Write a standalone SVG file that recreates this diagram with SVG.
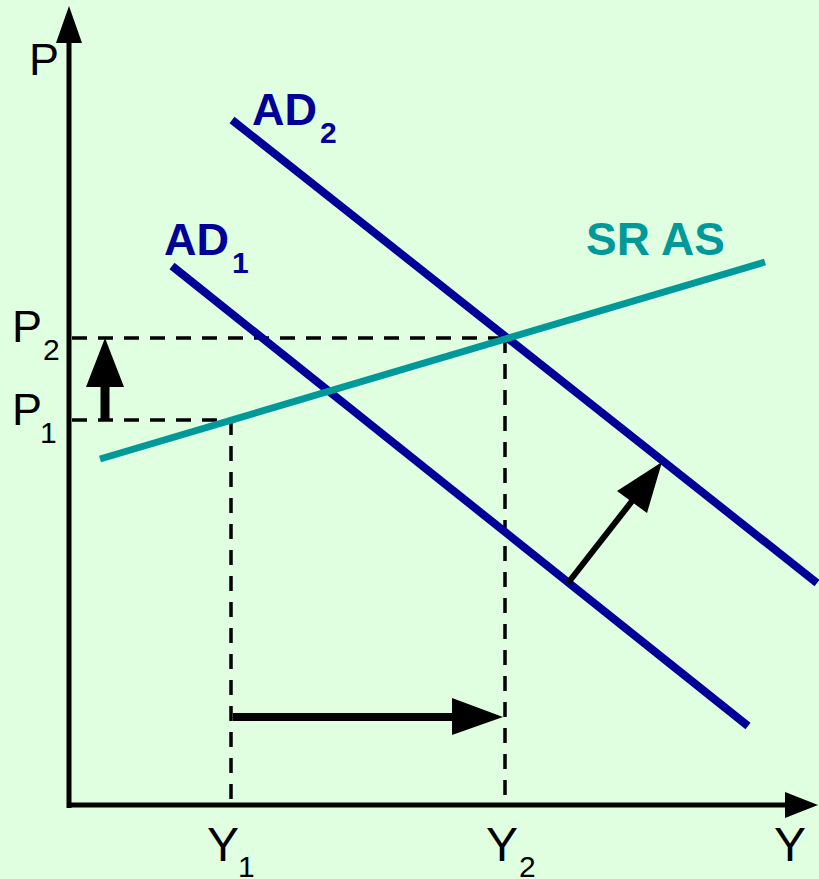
<svg xmlns="http://www.w3.org/2000/svg" width="819" height="879" viewBox="0 0 819 879">
<style>
.ax{stroke:#000;stroke-width:5;fill:none}
.dash{stroke:#000;stroke-width:3.5;stroke-dasharray:15,11;fill:none}
.ad{stroke:#000099;stroke-width:8;fill:none}
.as{stroke:#009999;stroke-width:7;fill:none}
.arr{stroke:#000;stroke-width:7;fill:none}
.head{fill:#000}
.lbl{font-family:"Liberation Sans",Arial,sans-serif;fill:#000}
.big{font-size:45px}
.ybig{font-size:48px}
.sub{font-size:30px}
.adl{font-family:"Liberation Sans",Arial,sans-serif;font-weight:bold;fill:#000099}
.asl{font-family:"Liberation Sans",Arial,sans-serif;font-weight:bold;fill:#009999;font-size:46px}
</style>
<rect width="819" height="879" fill="#E0FFE0"/>
<g id="axes">
<line class="ax" x1="69" y1="808" x2="69" y2="40"/>
<polygon class="head" points="69,6 56,43 82,43"/>
<line class="ax" x1="67" y1="805" x2="790" y2="805"/>
<polygon class="head" points="818,805 785,792 785,818"/>
</g>
<g id="connectors">
<line class="dash" x1="72" y1="338" x2="505" y2="338"/>
<line class="dash" x1="72" y1="420" x2="231" y2="420"/>
<line class="dash" x1="231" y1="420" x2="231" y2="805"/>
<line class="dash" x1="505" y1="338" x2="505" y2="805"/>
</g>
<g id="AD1"><line class="ad" x1="172" y1="266" x2="748" y2="726"/></g>
<g id="AD2"><line class="ad" x1="232" y1="120" x2="817" y2="583"/></g>
<g id="SRAS"><line class="as" x1="100" y1="459" x2="765" y2="262"/></g>
<g id="arrow-price">
<line class="arr" x1="105" y1="420" x2="105" y2="380" style="stroke-width:9"/>
<polygon class="head" points="105,338 86,387 124,387"/>
</g>
<g id="arrow-output">
<line class="arr" x1="233" y1="717" x2="460" y2="717" style="stroke-width:8"/>
<polygon class="head" points="503,717 452,698 452,735"/>
</g>
<g id="arrow-shift">
<line class="arr" x1="568" y1="583" x2="636" y2="496" style="stroke-width:6"/>
<polygon class="head" points="662,462 617,491 647,513"/>
</g>
<g id="labels">
<text class="lbl big" x="29" y="75">P</text>
<text class="lbl"><tspan class="big" x="12" y="342">P</tspan><tspan class="sub" x="43" y="360">2</tspan></text>
<text class="lbl"><tspan class="big" x="12" y="425">P</tspan><tspan class="sub" x="40" y="443">1</tspan></text>
<text class="lbl"><tspan class="ybig" x="207" y="861">Y</tspan><tspan class="sub" x="238" y="877">1</tspan></text>
<text class="lbl"><tspan class="ybig" x="486" y="861">Y</tspan><tspan class="sub" x="519" y="877">2</tspan></text>
<text class="lbl ybig" x="774" y="861">Y</text>
<text class="adl"><tspan style="font-size:45px" x="252" y="125">AD</tspan><tspan style="font-size:30px" x="320" y="143">2</tspan></text>
<text class="adl"><tspan style="font-size:45px" x="164" y="255">AD</tspan><tspan style="font-size:30px" x="232" y="273">1</tspan></text>
<text class="asl" x="586" y="255">SR AS</text>
</g>
</svg>
